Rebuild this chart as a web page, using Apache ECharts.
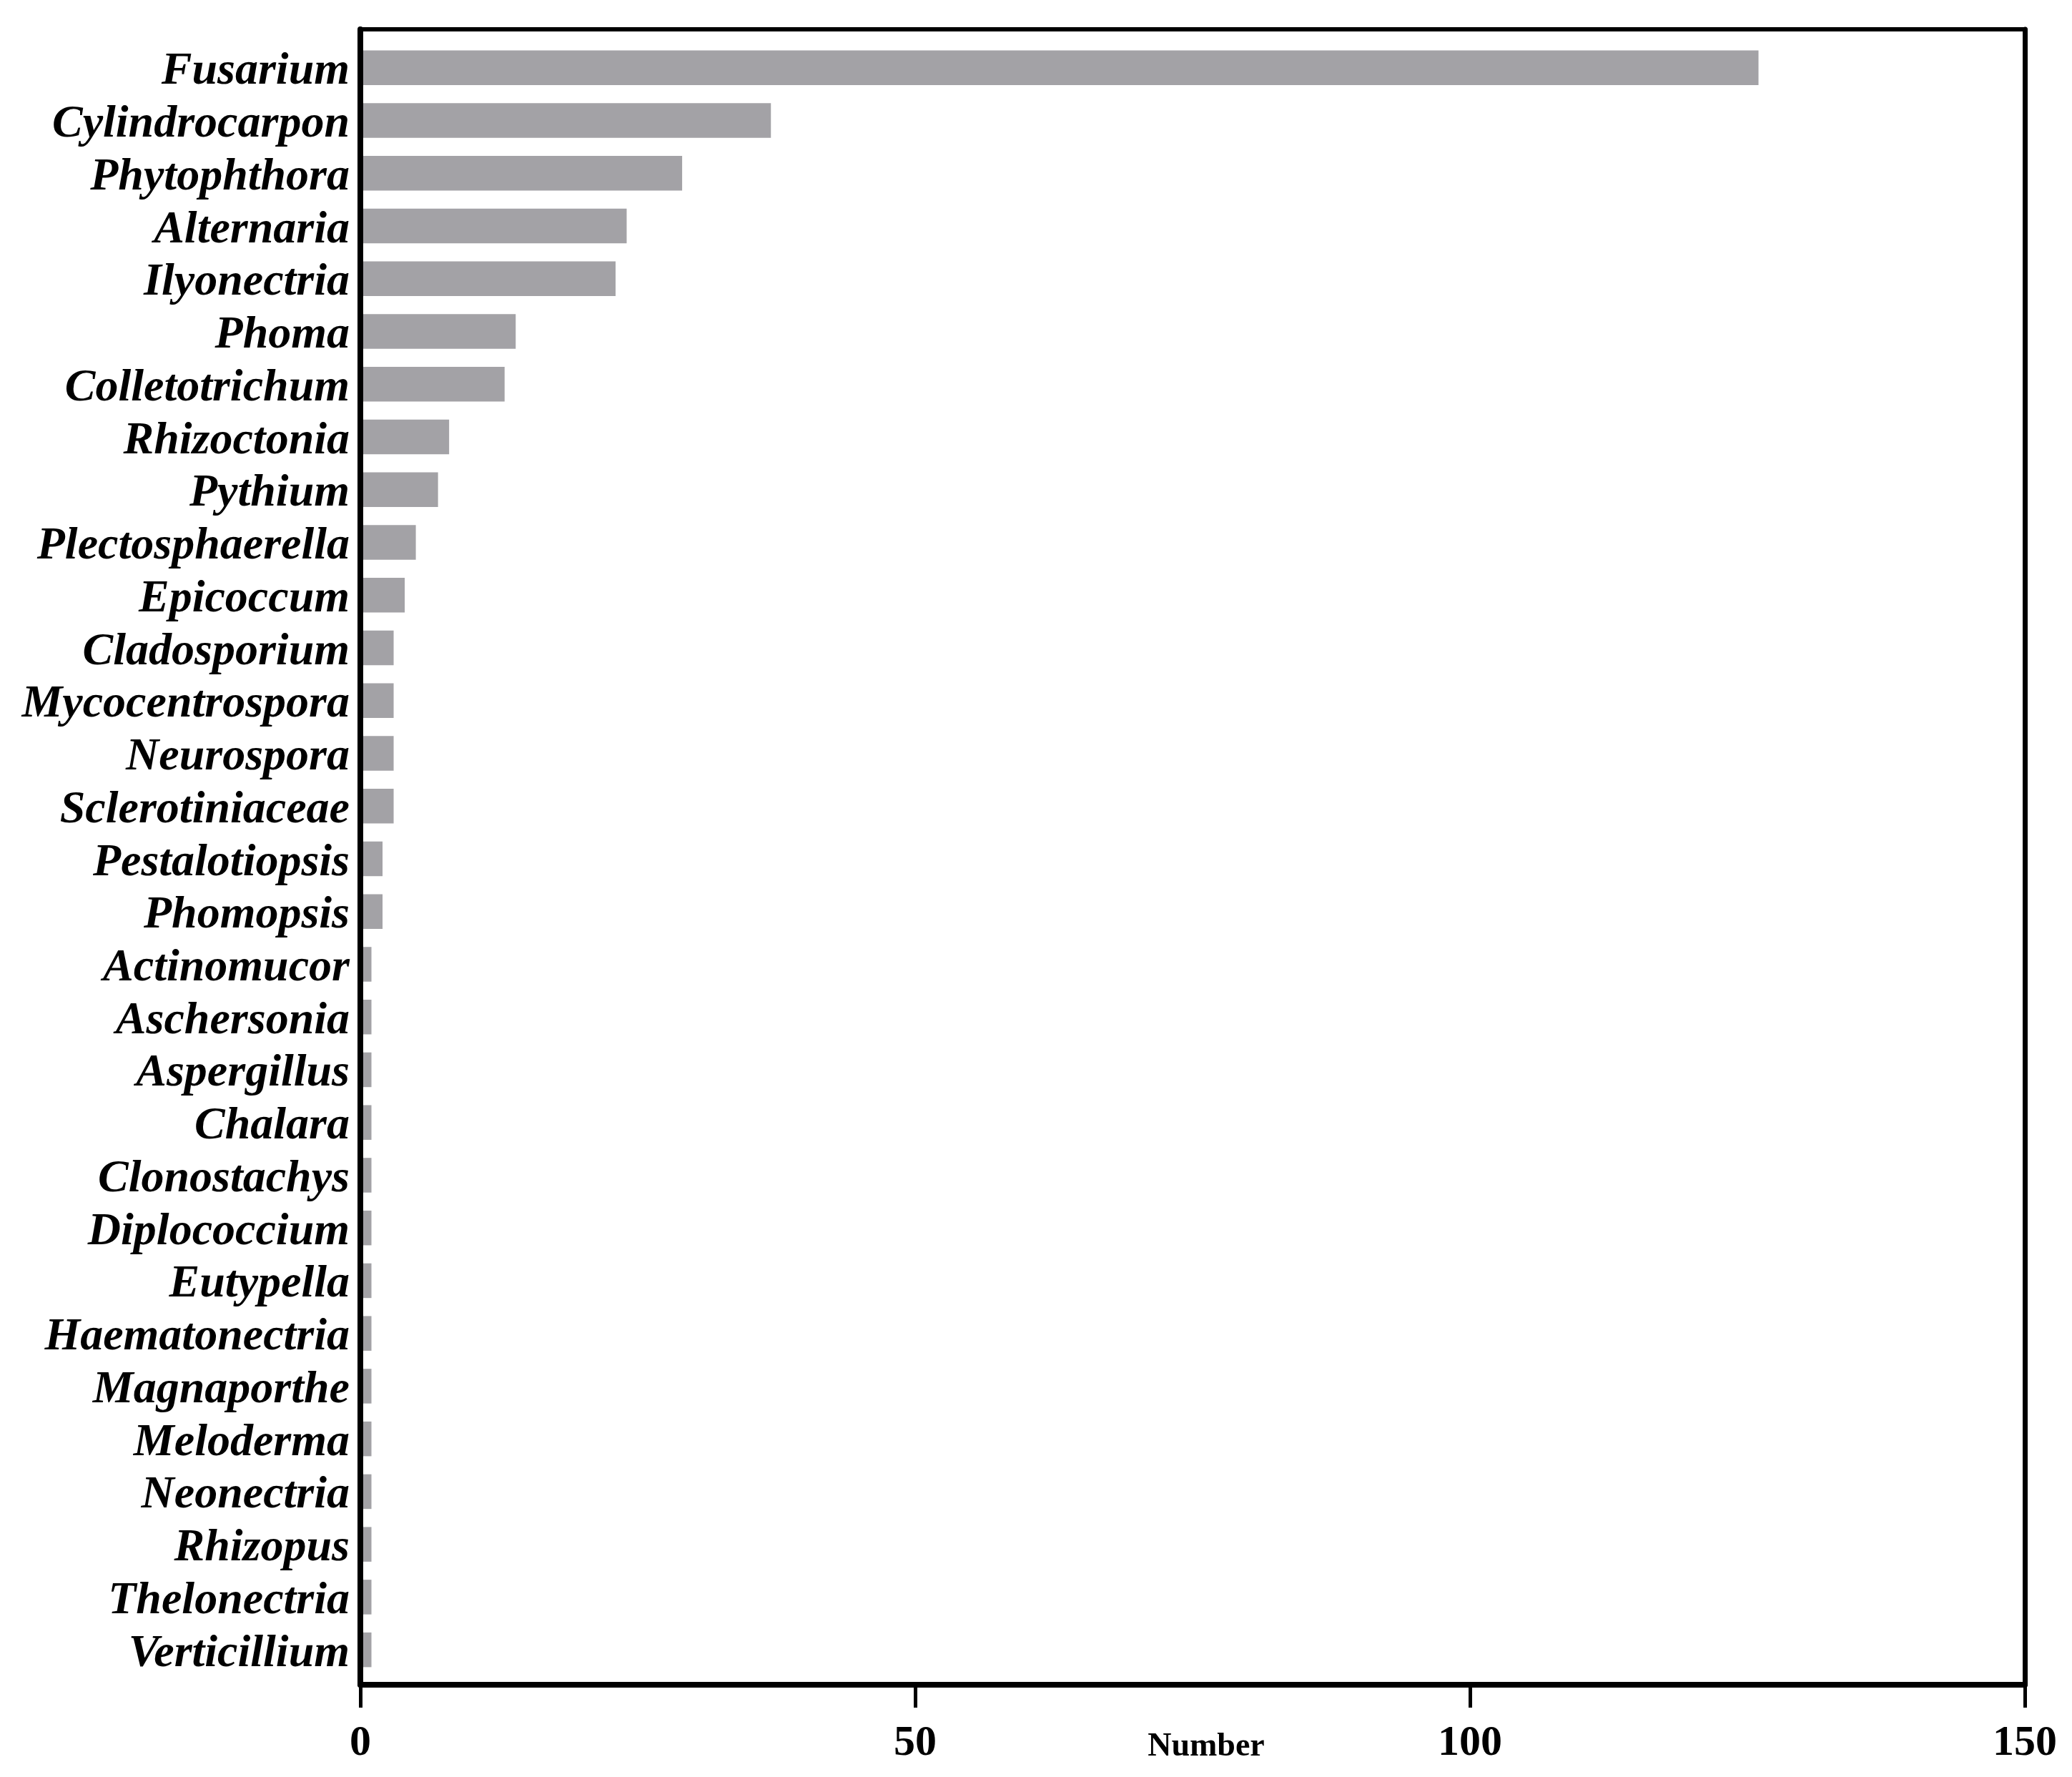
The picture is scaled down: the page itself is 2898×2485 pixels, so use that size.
<!DOCTYPE html>
<html>
<head>
<meta charset="utf-8">
<script src="https://cdn.jsdelivr.net/npm/echarts@6/dist/echarts.min.js"></script>
<style>
html,body{margin:0;padding:0;background:#fff;}
#chart{width:2898px;height:2485px;}
</style>
</head>
<body>
<div id="chart"></div>
<script>
const genera = ["Fusarium","Cylindrocarpon","Phytophthora","Alternaria","Ilyonectria","Phoma","Colletotrichum","Rhizoctonia","Pythium","Plectosphaerella","Epicoccum","Cladosporium","Mycocentrospora","Neurospora","Sclerotiniaceae","Pestalotiopsis","Phomopsis","Actinomucor","Aschersonia","Aspergillus","Chalara","Clonostachys","Diplococcium","Eutypella","Haematonectria","Magnaporthe","Meloderma","Neonectria","Rhizopus","Thelonectria","Verticillium"];
const counts = [126,37,29,24,23,14,13,8,7,5,4,3,3,3,3,2,2,1,1,1,1,1,1,1,1,1,1,1,1,1,1];
const xTicks = [0,50,100,150];
const xTitle = "Number";

const serif = "'Liberation Serif','Times New Roman',serif";
const chart = echarts.init(document.getElementById('chart'), null, {renderer:'canvas'});
chart.setOption({
  backgroundColor:'#ffffff',
  animation:false,
  grid:[
    {left:504, right:66, top:41, bottom:129},
    {left:504, right:66, top:58, bottom:141}
  ],
  xAxis:[
    {gridIndex:0, type:'value', position:'bottom', min:xTicks[0], max:xTicks[xTicks.length-1], interval:50, z:10,
     axisLine:{show:true, onZero:false, lineStyle:{color:'#000', width:8}},
     axisTick:{show:true, length:32, lineStyle:{color:'#000', width:5}},
     axisLabel:{show:true, margin:52, color:'#000', fontFamily:serif, fontWeight:'bold', fontSize:60},
     splitLine:{show:false},
     name:xTitle, nameLocation:'middle', nameGap:64, nameMoveOverlap:false,
     nameTextStyle:{color:'#000', fontFamily:serif, fontWeight:'bold', fontSize:46, padding:[0,0,0,38]}
    },
    {gridIndex:0, type:'value', position:'top', min:0, max:150, z:10,
     axisLine:{show:true, onZero:false, lineStyle:{color:'#000', width:6}},
     axisTick:{show:false}, axisLabel:{show:false}, splitLine:{show:false}},
    {gridIndex:1, type:'value', min:0, max:150, show:false, splitLine:{show:false}}
  ],
  yAxis:[
    {gridIndex:0, type:'value', position:'left', min:0, max:1, z:10,
     axisLine:{show:true, onZero:false, lineStyle:{color:'#000', width:8}},
     axisTick:{show:false}, axisLabel:{show:false}, splitLine:{show:false}},
    {gridIndex:0, type:'value', position:'right', min:0, max:1, z:10,
     axisLine:{show:true, onZero:false, lineStyle:{color:'#000', width:7}},
     axisTick:{show:false}, axisLabel:{show:false}, splitLine:{show:false}},
    {gridIndex:1, type:'category', data:genera, inverse:true,
     axisLine:{show:false}, axisTick:{show:false}, splitLine:{show:false},
     axisLabel:{show:true, interval:0, margin:15, color:'#000', fontFamily:serif, fontWeight:'bold', fontStyle:'italic', fontSize:64,
       formatter: function (v) { return '{g|' + v + '}{s|}'; },
       rich:{
         g:{color:'#000', fontFamily:serif, fontWeight:'bold', fontStyle:'italic', fontSize:64, lineHeight:64, verticalAlign:'bottom'},
         s:{width:0, height:76, lineHeight:76}
       }}}
  ],
  series:[
    {type:'bar', xAxisIndex:2, yAxisIndex:2, data:counts, barWidth:48.5,
     itemStyle:{color:'#a3a2a6'}, silent:true}
  ]
});
</script>
</body>
</html>
